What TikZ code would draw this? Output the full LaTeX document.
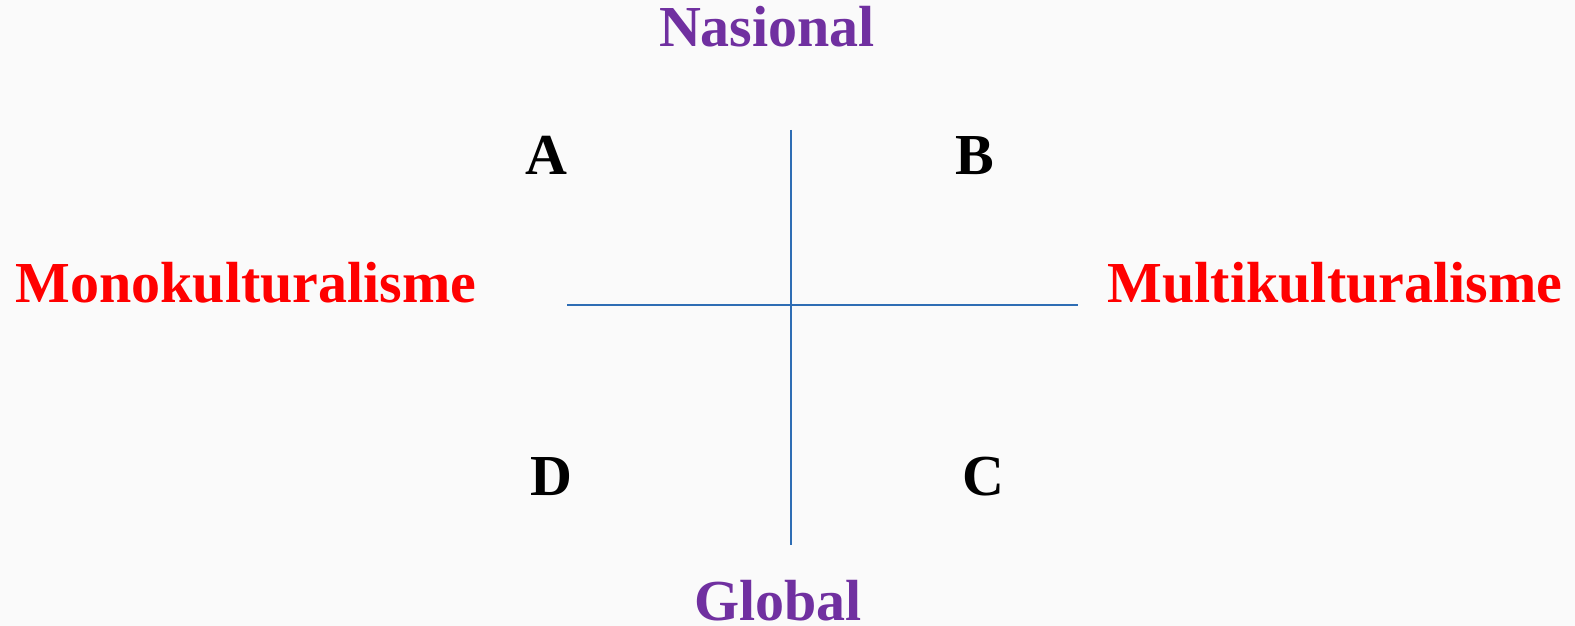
\documentclass[tikz,border=0pt]{standalone}
\usepackage{fontspec}
\setmainfont{Liberation Serif}
\definecolor{bgc}{HTML}{FAFAFA}
\definecolor{axisblue}{HTML}{2E6DB4}
\definecolor{purp}{HTML}{7030A0}
\definecolor{redc}{HTML}{FF0000}
\begin{document}
\begin{tikzpicture}[x=1pt,y=1pt,
  lbl/.style={inner sep=0pt,anchor=base,font=\fontsize{58}{60}\selectfont\bfseries},
  axis/.style={draw=axisblue,line width=1.6pt}]
\fill[bgc] (0,0) rectangle (1575,626);
\useasboundingbox (0,0) rectangle (1575,626);
\node[lbl,text=purp] (nas) at (767,579) {Nasional};
\node[lbl,text=purp] (glo) at (778,5) {Global};
\node[lbl,text=redc] (mono) at (246,323) {Monokulturalisme};
\node[lbl,text=redc] (multi) at (1335,323) {Multikulturalisme};
\node[lbl] (A) at (546,451) {A};
\node[lbl] (B) at (975,451) {B};
\node[lbl] (D) at (551,130) {D};
\node[lbl] (C) at (983,130) {C};
\coordinate (top) at (791,496);
\coordinate (bot) at (791,81);
\coordinate (left) at (567,321);
\coordinate (right) at (1078,321);
\draw[axis] (top) -- (bot);
\draw[axis] (left) -- (right);
\end{tikzpicture}
\end{document}
